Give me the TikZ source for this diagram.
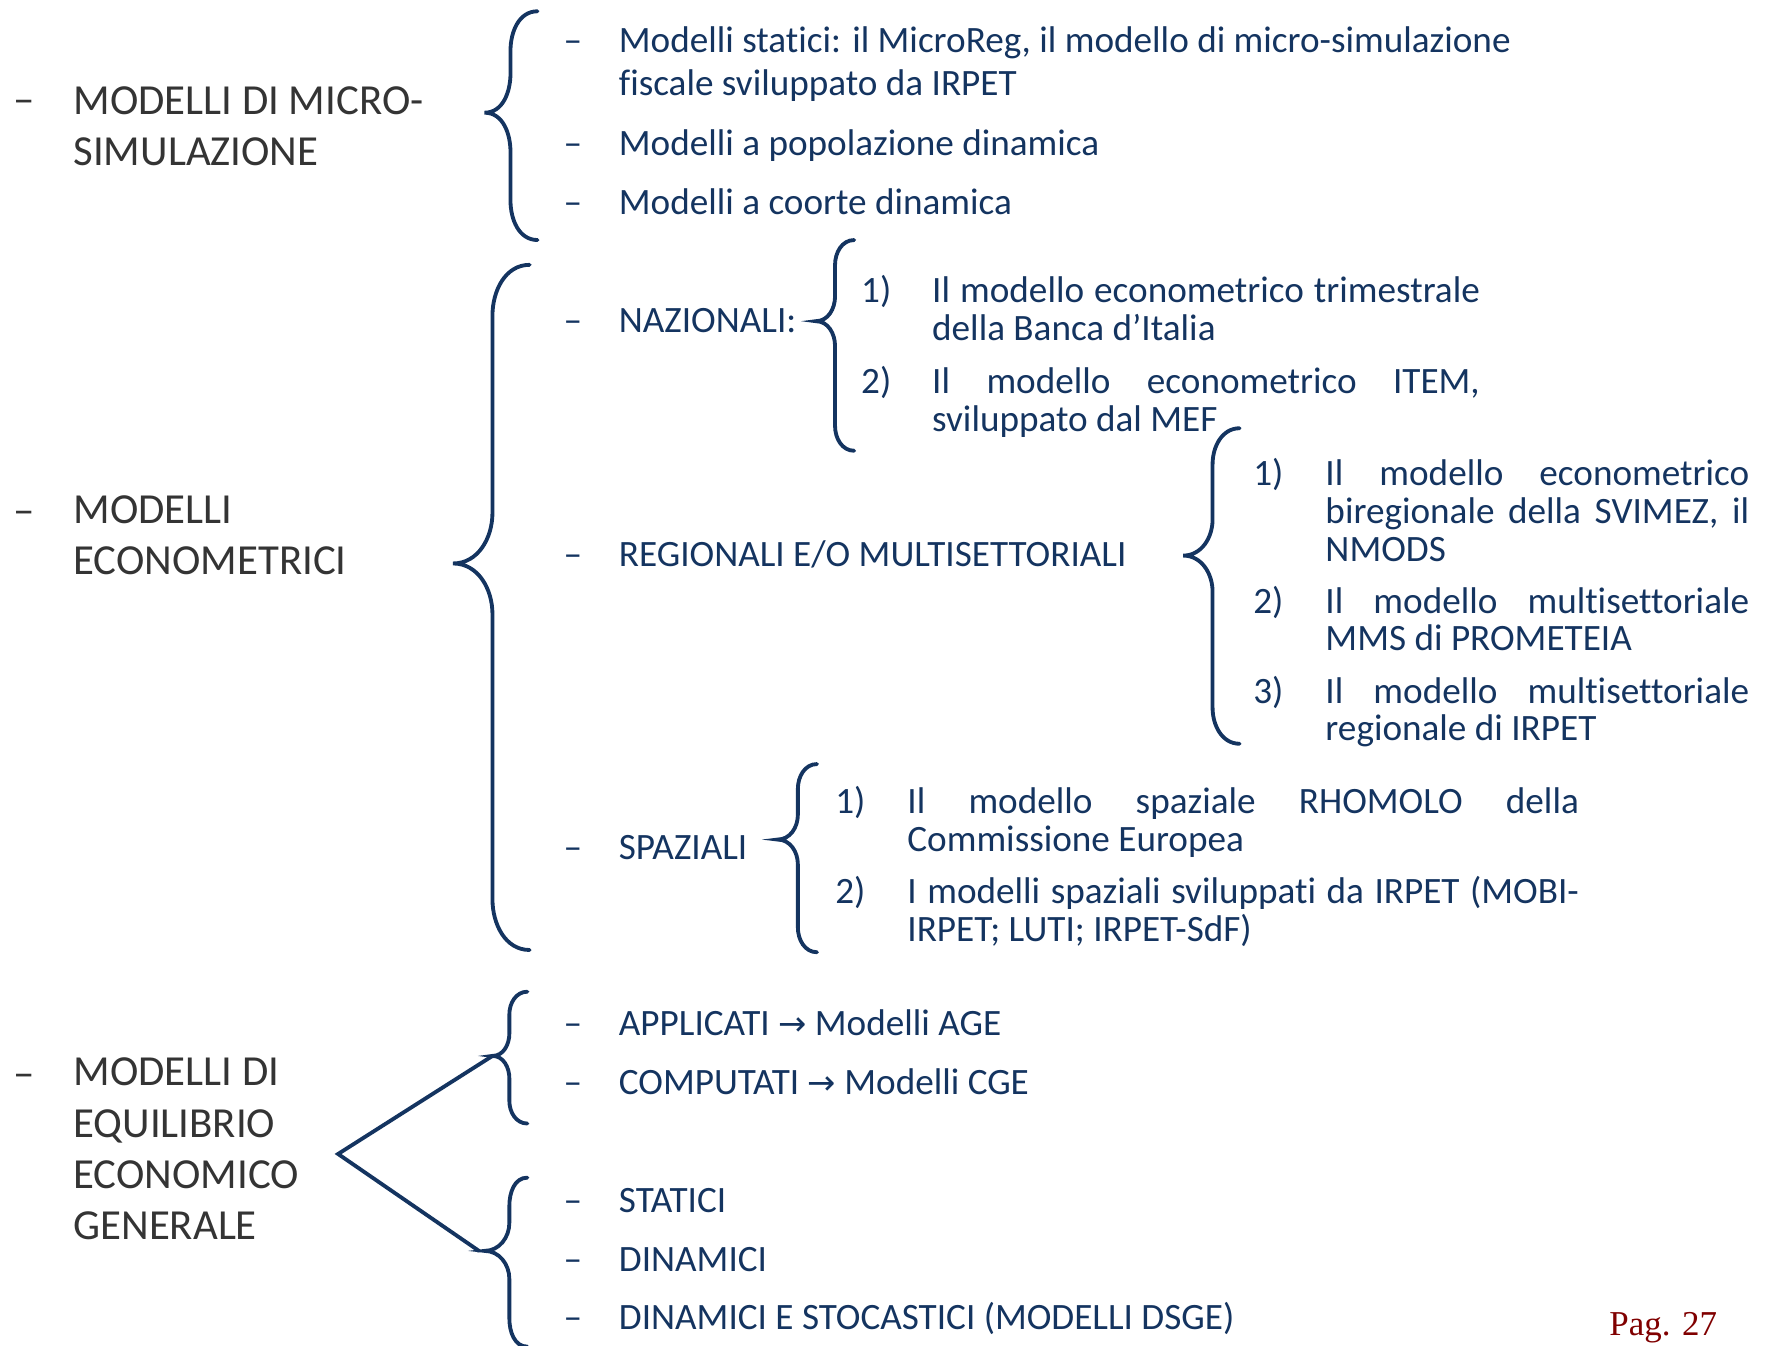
\documentclass[tikz,border=0pt]{standalone}
\usepackage{fontspec}
\setmainfont{Carlito}[Ligatures=NoCommon]
\newfontfamily\arrowfont{DejaVu Sans}
\newfontfamily\pagfont{Liberation Serif}
\definecolor{navy}{RGB}{20,52,96}
\definecolor{labgray}{RGB}{52,52,52}
\definecolor{pagred}{RGB}{128,0,0}
\tikzset{
    lbl/.style  =   {anchor=base west,
                    inner sep=0pt,
                    text=labgray,
                    align=left,
                    font=\fontsize{38}{45.5}\selectfont},
    itm/.style  =   {anchor=base west,
                    inner sep=0pt,
                    text=navy,
                    align=left,
                    font=\fontsize{33}{33.5}\selectfont},
    brc/.style  =   {draw=navy,
                    line width=3.4pt,
                    line cap=round,
                    line join=miter},
    pag/.style  =   {anchor=base west,
                    inner sep=0pt,
                    text=pagred,
                    font=\pagfont\fontsize{31}{31}\selectfont}}
% end x, stroke x, tip x, top y, tip y, bottom y, bend, tip name
\newcommand{\curly}[8]{%
    \draw[brc] (#1,#4) to[out=180,in=90] (#2,#4+#7) -- (#2,#5-#7)
        to[out=-90,in=0] (#3,#5) coordinate (#8) to[out=0,in=90] (#2,#5+#7)
        -- (#2,#6-#7) to[out=-90,in=180] (#1,#6);}
\newcommand{\jline}[2]{\makebox[#1][s]{#2}}
\newcommand{\arr}{{\arrowfont\fontsize{30}{30}\selectfont →}}

\begin{document}
\begin{tikzpicture}[x=1pt,y=-1pt]
    \useasboundingbox (0,0) rectangle (1568,1194);
    % left column (multi-line nodes sit on their last baseline)
    \node[lbl]  (dA) at (12,101)  {–};
    \node[lbl]  (lA) at (65,147)  {MODELLI DI MICRO-\\SIMULAZIONE};
    \node[lbl]  (dB) at (12,465)  {–};
    \node[lbl]  (lB) at (65,510)  {MODELLI\\ECONOMETRICI};
    \node[lbl]  (dC) at (12,965)  {–};
    \node[lbl]  (lC) at (65,1100) {MODELLI DI\\EQUILIBRIO\\ECONOMICO\\GENERALE};

    % braces
    \curly{477}{453}{430}{10}{100}{213}{35}{tA}
    \curly{470}{437}{402}{235}{500}{843}{45}{tB}
    \curly{758}{741}{724}{213}{285}{400}{22}{tN}
    \curly{1100}{1076}{1050}{380}{493}{660}{32}{tR}
    \curly{725}{708}{690}{678}{745}{845}{22}{tS}
    \curly{468}{452}{437}{880}{937}{997}{20}{tC1}
    \curly{468}{452}{430}{1045}{1110}{1195}{25}{tC2}
    \coordinate (v)  at (300,1024);
    \coordinate (e7) at (425,1110);
    \draw[brc] (tC1) -- (v) -- (e7);

    % micro-simulazione
    \node[itm]  (d1) at (500,47)  {–};
    \node[itm]  (s1) at (549,85)  {Modelli statici: il MicroReg, il modello di micro-simulazione\\[4.5pt]fiscale sviluppato da IRPET};
    \node[itm]  (d2) at (500,138) {–};
    \node[itm]  (s2) at (549,138) {Modelli a popolazione dinamica};
    \node[itm]  (d3) at (500,190) {–};
    \node[itm]  (s3) at (549,190) {Modelli a coorte dinamica};

    % econometrici
    \node[itm]  (d4) at (500,295) {–};
    \node[itm]  (naz) at (549,295) {NAZIONALI:};
    \node[itm]  (n1) at (764,268) {1)};
    \node[itm]  (m1) at (827,302) {\jline{486pt}{Il modello econometrico trimestrale}\\della Banca d’Italia};
    \node[itm]  (n2) at (764,349) {2)};
    \node[itm]  (m2) at (827,383) {\jline{486pt}{Il modello econometrico ITEM,}\\sviluppato dal MEF};

    \node[itm]  (d5) at (500,503) {–};
    \node[itm]  (reg) at (549,503) {REGIONALI E/O MULTISETTORIALI};
    \node[itm]  (r1) at (1112,431) {1)};
    \node[itm]  (q1) at (1176,498) {\jline{376pt}{Il modello econometrico}\\\jline{376pt}{biregionale della SVIMEZ, il}\\NMODS};
    \node[itm]  (r2) at (1112,544) {2)};
    \node[itm]  (q2) at (1176,577.5) {\jline{376pt}{Il modello multisettoriale}\\MMS di PROMETEIA};
    \node[itm]  (r3) at (1112,624) {3)};
    \node[itm]  (q3) at (1176,657.5) {\jline{376pt}{Il modello multisettoriale}\\regionale di IRPET};

    \node[itm]  (d6) at (500,763) {–};
    \node[itm]  (spa) at (549,763) {SPAZIALI};
    \node[itm]  (p1) at (741,722) {1)};
    \node[itm]  (k1) at (805,755.5) {\jline{596pt}{Il modello spaziale RHOMOLO della}\\Commissione Europea};
    \node[itm]  (p2) at (741,802) {2)};
    \node[itm]  (k2) at (805,835.5) {\jline{596pt}{I modelli spaziali sviluppati da IRPET (MOBI-}\\IRPET; LUTI; IRPET-SdF)};

    % equilibrio economico generale
    \node[itm]  (d7) at (500,919)  {–};
    \node[itm]  (g1) at (549,919)  {APPLICATI \arr{} Modelli AGE};
    \node[itm]  (d8) at (500,971)  {–};
    \node[itm]  (g2) at (549,971)  {COMPUTATI \arr{} Modelli CGE};
    \node[itm]  (d9) at (500,1076) {–};
    \node[itm]  (g3) at (549,1076) {STATICI};
    \node[itm]  (d10) at (500,1128) {–};
    \node[itm]  (g4) at (549,1128) {DINAMICI};
    \node[itm]  (d11) at (500,1180) {–};
    \node[itm]  (g5) at (549,1180) {DINAMICI E STOCASTICI (MODELLI DSGE)};

    \node[pag]  (pg) at (1428,1185) {Pag. 27};
\end{tikzpicture}
\end{document}
